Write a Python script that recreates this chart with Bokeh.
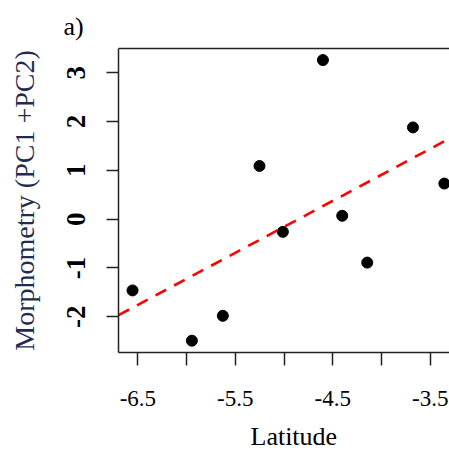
import numpy as np
from bokeh.plotting import figure
from bokeh.models import FixedTicker, LinearAxis, Title, CustomJSTickFormatter
from bokeh.embed import file_html
from bokeh.resources import INLINE

# ---- data ----
latitude = [-6.555, -5.946, -5.628, -5.252, -5.012, -4.601, -4.403, -4.146, -3.677, -3.355]
morphometry = [-1.46, -2.49, -1.98, 1.09, -0.26, 3.26, 0.07, -0.89, 1.88, 0.73]

x_major_ticks = [-6.5, -5.5, -4.5, -3.5]
x_minor_ticks = [-6.0, -5.0, -4.0]
y_ticks = [-2, -1, 0, 1, 2, 3]

x_lo, x_hi = -6.699, -3.302
y_lo, y_hi = -2.732, 3.497

# least-squares regression line from the data
slope, intercept = np.polyfit(latitude, morphometry, 1)

SERIF = "Liberation Serif"

p = figure(frame_width=331, frame_height=304,
           x_range=(x_lo, x_hi), y_range=(y_lo, y_hi),
           output_backend="svg", toolbar_location=None,
           min_border_left=118, min_border_right=0,
           min_border_top=48, min_border_bottom=103)
p.outline_line_color = None
p.xgrid.visible = False
p.ygrid.visible = False
p.background_fill_color = "white"
p.border_fill_color = "white"

AX = "#222222"

# x axis
xa = p.xaxis[0]
xa.ticker = FixedTicker(ticks=x_major_ticks, minor_ticks=x_minor_ticks)
xa.formatter = CustomJSTickFormatter(code="return tick.toFixed(1);")
xa.axis_line_color = AX
xa.axis_line_width = 1.5
xa.major_tick_line_color = AX
xa.major_tick_line_width = 1.5
xa.major_tick_in = 0
xa.major_tick_out = 13
xa.minor_tick_line_color = AX
xa.minor_tick_line_width = 1.5
xa.minor_tick_in = 0
xa.minor_tick_out = 13
xa.major_label_text_font = SERIF
xa.major_label_text_font_size = "23px"
xa.major_label_text_color = "black"
xa.major_label_standoff = 25

# y axis
ya = p.yaxis[0]
ya.ticker = FixedTicker(ticks=y_ticks)
ya.formatter = CustomJSTickFormatter(code="return tick.toString();")
ya.axis_line_color = AX
ya.axis_line_width = 1.5
ya.major_tick_line_color = AX
ya.major_tick_line_width = 1.5
ya.major_tick_in = 0
ya.major_tick_out = 12
ya.minor_tick_line_color = None
ya.major_label_orientation = "vertical"
ya.major_label_text_font = SERIF
ya.major_label_text_font_size = "27px"
ya.major_label_text_font_style = "bold"
ya.major_label_text_color = "black"
ya.major_label_standoff = 21
ya.axis_label = "Morphometry (PC1 +PC2)"
ya.axis_label_text_font = SERIF
ya.axis_label_text_font_size = "28px"
ya.axis_label_text_font_style = "normal"
ya.axis_label_text_color = "#1f2d50"
ya.axis_label_standoff = 25

# top frame line (no right edge visible in the reference)
top = LinearAxis(ticker=FixedTicker(ticks=[]), major_tick_out=0, major_tick_in=0,
                 minor_tick_out=0, minor_tick_in=0,
                 axis_line_color=AX, axis_line_width=1.5,
                 major_label_text_font_size="0px", major_label_standoff=0)
p.add_layout(top, "above")

# panel label and x axis title
p.add_layout(Title(text="a)", align="left", offset=-55, text_font=SERIF,
                   text_font_size="26px", text_font_style="normal",
                   text_color="black", standoff=16), "above")
p.add_layout(Title(text="Latitude", align="left", offset=132, text_font=SERIF,
                   text_font_size="26px", text_font_style="normal",
                   text_color="black", standoff=22), "below")

# regression line (dashed red)
p.line(x=[x_lo, x_hi], y=[slope * x_lo + intercept, slope * x_hi + intercept],
       line_color="#ff0000", line_width=2.6, line_dash="12 9")

# points
p.scatter(x=latitude, y=morphometry, size=11, color="black")

open("out.html", "w").write(file_html(p, INLINE))
